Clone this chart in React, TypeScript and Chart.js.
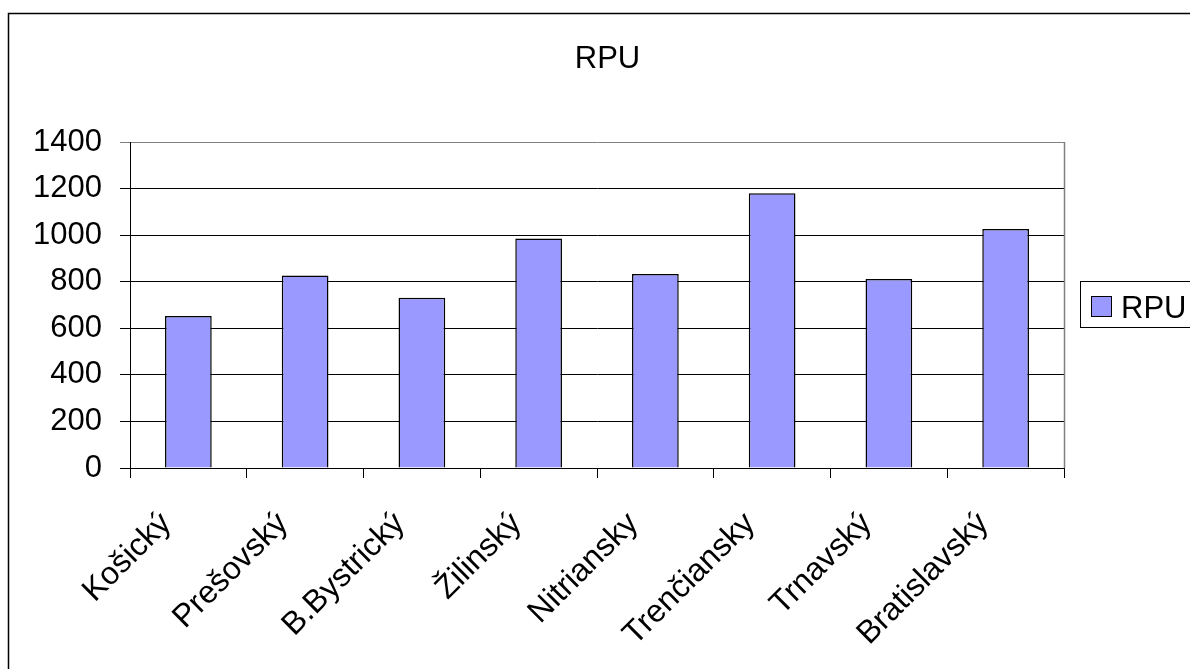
import React, { useEffect, useRef } from "react";
import { Chart, registerables } from "chart.js";

Chart.register(...registerables);

const categories = [
  "Košický",
  "Prešovský",
  "B.Bystrický",
  "Žilinský",
  "Nitriansky",
  "Trenčiansky",
  "Trnavský",
  "Bratislavský",
];
const seriesName = "RPU";
const rpuValues = [653, 827, 731, 986, 833, 1180, 812, 1026];
const yMin = 0;
const yMax = 1400;
const yStep = 200;

const FONT = "'Liberation Sans', Arial, sans-serif";
const FONT_SIZE = 31;
const X_FONT_SIZE = 32;

const decorPlugin = {
  id: "decor",
  beforeDraw(chart: any) {
    const ctx = chart.ctx;
    ctx.save();
    ctx.fillStyle = "#ffffff";
    ctx.fillRect(0, 0, chart.width, chart.height);
    ctx.restore();
  },
  afterDraw(chart: any) {
    const ctx = chart.ctx;
    const { right, top, bottom } = chart.chartArea;
    ctx.save();
    // outer frame
    ctx.strokeStyle = "#000";
    ctx.lineWidth = 1.5;
    ctx.beginPath();
    ctx.moveTo(8.5, chart.height + 5);
    ctx.lineTo(8.5, 13.5);
    ctx.lineTo(chart.width + 5, 13.5);
    ctx.stroke();
    // plot area right border (gray)
    ctx.strokeStyle = "#808080";
    ctx.lineWidth = 1.5;
    ctx.beginPath();
    ctx.moveTo(Math.round(right) + 0.5, top);
    ctx.lineTo(Math.round(right) + 0.5, bottom);
    ctx.stroke();
    // title
    ctx.fillStyle = "#000";
    ctx.font = `${FONT_SIZE}px ${FONT}`;
    ctx.textAlign = "center";
    ctx.textBaseline = "alphabetic";
    ctx.fillText(seriesName, 607.5, 68);
    // legend
    ctx.strokeStyle = "#000";
    ctx.lineWidth = 1;
    ctx.strokeRect(1080.5, 281.5, 140, 46);
    ctx.fillStyle = "#9999FF";
    ctx.fillRect(1091, 296, 21, 21);
    ctx.strokeRect(1091.5, 296.5, 20, 20);
    ctx.fillStyle = "#000";
    ctx.textAlign = "left";
    ctx.fillText(seriesName, 1121, 318);
    ctx.restore();
  },
};

export default function App() {
  const canvasRef = useRef<HTMLCanvasElement | null>(null);

  useEffect(() => {
    if (!canvasRef.current) return;
    const chart = new Chart(canvasRef.current, {
      type: "bar",
      data: {
        labels: categories,
        datasets: [
          {
            label: seriesName,
            data: rpuValues,
            backgroundColor: "#9999FF",
            borderColor: "#000000",
            borderWidth: 1.5,
            categoryPercentage: 1,
            barPercentage: 0.4,
          },
        ],
      },
      options: {
        responsive: false,
        animation: false,
        devicePixelRatio: 1,
        layout: { padding: { top: 142, right: 126, left: 0, bottom: 0 } },
        plugins: {
          legend: { display: false },
          title: { display: false },
          tooltip: { enabled: false },
        },
        scales: {
          x: {
            afterFit: (s: any) => {
              s.height = 201;
            },
            grid: {
              offset: true,
              drawOnChartArea: false,
              drawTicks: true,
              tickLength: 10,
              color: "#000",
              lineWidth: 1,
            },
            border: { color: "#000", width: 1 },
            ticks: {
              autoSkip: false,
              minRotation: 45,
              maxRotation: 45,
              padding: 27,
              labelOffset: -22,
              color: "#000",
              font: { family: FONT, size: X_FONT_SIZE },
            },
          },
          y: {
            min: yMin,
            max: yMax,
            afterFit: (s: any) => {
              s.width = 130;
            },
            grid: {
              color: (c: any) => (c.tick && c.tick.value === yMax ? "#808080" : "#000"),
              lineWidth: 1,
              drawTicks: true,
              tickLength: 10,
            },
            border: { color: "#000", width: 1 },
            ticks: {
              stepSize: yStep,
              padding: 18,
              color: "#000",
              font: { family: FONT, size: FONT_SIZE },
              callback: (v: any) => String(v),
            },
          },
        },
      },
      plugins: [decorPlugin],
    });
    return () => chart.destroy();
  }, []);

  return (
    <div style={{ position: "fixed", left: 0, top: 0, width: 1190, height: 669, background: "#fff" }}>
      <canvas ref={canvasRef} width={1190} height={669} style={{ width: 1190, height: 669, display: "block" }} />
    </div>
  );
}
